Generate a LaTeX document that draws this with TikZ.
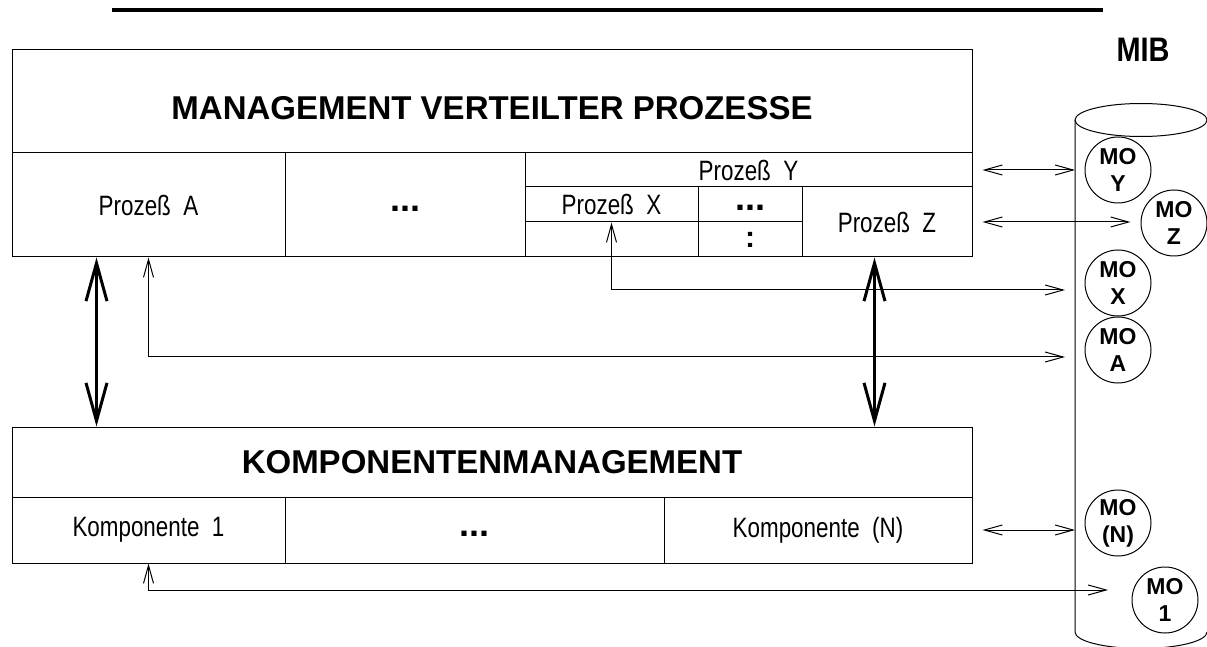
\documentclass[tikz,border=0pt]{standalone}
\usepackage{fontspec}
\setmainfont{Liberation Sans}
\usetikzlibrary{arrows.meta}
\newcommand{\schmal}[1]{\scalebox{0.8}[1]{#1}}

\begin{document}
\begin{tikzpicture}[x=0.5pt, y=-0.5pt,
  cell/.style={draw, line width=0.5pt, inner sep=0pt, font=\fontsize{14}{16}\selectfont},
  titel/.style={cell, font=\fontsize{16.5}{20}\selectfont\bfseries},
  punkte/.style={cell, text height=6.5pt, text depth=0pt, font=\fontsize{18}{18}\selectfont\bfseries},
  mo/.style={circle, draw, line width=0.5pt, minimum size=33pt, inner sep=0pt, align=center, font=\fontsize{11.5}{13.5}\selectfont\bfseries},
  pfeil/.style={line width=0.5pt, {Straight Barb[length=9pt,width=5pt]}-{Straight Barb[length=9pt,width=5pt]}},
  dick/.style={line width=1.5pt, {Straight Barb[length=19pt,width=10.5pt]}-{Straight Barb[length=19pt,width=10.5pt]}}]
\clip (0,0) rectangle (1207,647);

% Kopflinie und MIB
\draw[line width=2pt] (112,10) -- (1103,10);
\node[font=\fontsize{17}{20}\selectfont\bfseries] (mib) at (1143,50) {\scalebox{0.85}[1]{MIB}};

% Management verteilter Prozesse
\node[titel, minimum width=480pt, minimum height=51.5pt, text height=18.5pt] (mvp) at (492,101.5) {MANAGEMENT VERTEILTER PROZESSE};
\node[cell, minimum width=136.5pt, minimum height=52pt] (pa) at (148.5,205) {\schmal{Prozeß~~A}};
\node[punkte, minimum width=120pt, minimum height=52pt] (pdots) at (405,205) {...};
\node[cell, minimum width=223.5pt, minimum height=17pt] (py) at (748.5,170) {\schmal{Prozeß~~Y}};
\node[cell, minimum width=86.5pt, minimum height=17.5pt] (px) at (611.5,204.5) {\schmal{Prozeß~~X}};
\node[punkte, minimum width=52pt, minimum height=17.5pt] (xdots) at (750,204.5) {...};
\node[cell, minimum width=86.5pt, minimum height=17.5pt] (xleer) at (611.5,239.5) {};
\node[punkte, minimum width=52pt, minimum height=17.5pt, text height=7.8pt, font=\fontsize{15}{15}\selectfont\bfseries] (xpunkt) at (750,239.5) {:};
\node[cell, minimum width=85pt, minimum height=35pt] (pz) at (887,222) {\schmal{Prozeß~~Z}};

% Komponentenmanagement
\node[titel, minimum width=480pt, minimum height=35pt] (km) at (492,462) {KOMPONENTENMANAGEMENT};
\node[cell, minimum width=136.5pt, minimum height=33pt] (k1) at (148.5,530) {\schmal{Komponente~~1}};
\node[punkte, minimum width=189.5pt, minimum height=33pt] (kdots) at (474.5,530) {...};
\node[cell, minimum width=154pt, minimum height=33pt] (kn) at (818,530) {\schmal{Komponente~~(N)}};

% MIB-Zylinder
\coordinate (zyl) at (1075,120);
\draw[line width=0.5pt] (1141,120) ellipse [x radius=33pt, y radius=8.25pt];
\draw[line width=0.5pt] (zyl) -- (1075,632) arc[start angle=180, end angle=360, x radius=33pt, y radius=8.25pt];

\node[mo] (moy) at (1118,170) {MO\\Y};
\node[mo] (moz) at (1174,223) {MO\\Z};
\node[mo] (mox) at (1118,283) {MO\\X};
\node[mo] (moa) at (1118,350) {MO\\A};
\node[mo] (mon) at (1118,523) {MO\\(N)};
\node[mo] (mo1) at (1165,600) {MO\\1};

% Verbindungen
\coordinate (xende) at (1065,290);
\coordinate (aende) at (1065,357);
\coordinate (einsende) at (1108,590);
\draw[dick] ([xshift=42.5pt]pa.south west) -- ([xshift=42.5pt]km.north west);
\draw[dick] ([xshift=36.5pt]pz.south west) -- ([xshift=36.5pt]pz.south west |- km.north);
\draw[pfeil] (px.south) |- (xende);
\draw[pfeil] (pa.south) |- (aende);
\draw[pfeil] (k1.south) |- (einsende);
\draw[pfeil] ([xshift=5pt]py.east) -- (py.east -| zyl);
\draw[pfeil] ([xshift=5pt]pz.east) -- ([xshift=-5pt]moz.west |- pz.east);
\draw[pfeil] ([xshift=5pt]kn.east) -- (kn.east -| zyl);
\end{tikzpicture}
\end{document}
